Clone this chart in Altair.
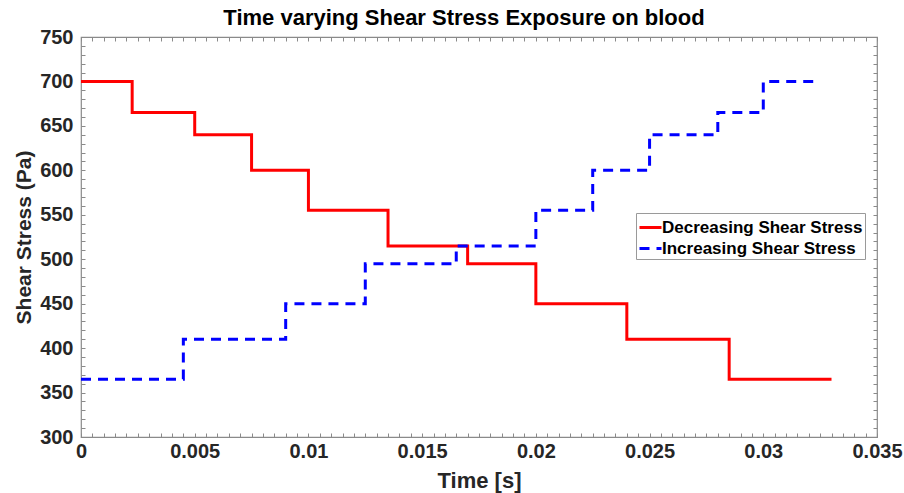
import altair as alt
import pandas as pd

# ---- data ----
dec_time = [0, 0.00225, 0.005, 0.0075, 0.01, 0.0135, 0.017, 0.02, 0.024, 0.0285, 0.033]
dec_stress = [700, 665, 640, 600, 555, 515, 495, 450, 410, 365, 365]
inc_time = [0, 0.0045, 0.009, 0.0125, 0.0165, 0.02, 0.0225, 0.025, 0.028, 0.03, 0.0325]
inc_stress = [365, 410, 450, 495, 515, 555, 600, 640, 665, 700, 700]
series = ["Decreasing Shear Stress", "Increasing Shear Stress"]
x_major = [0, 0.005, 0.01, 0.015, 0.02, 0.025, 0.03, 0.035]
y_major = [300, 350, 400, 450, 500, 550, 600, 650, 700, 750]

rows = []
for t, v in zip(dec_time, dec_stress):
    rows.append({"t": t, "s": v, "series": series[0], "order": 0})
for t, v in zip(inc_time, inc_stress):
    rows.append({"t": t, "s": v, "series": series[1], "order": 1})
df = pd.DataFrame(rows)

x_minor = [round(i * 0.0005, 5) for i in range(71)]
y_minor = list(range(300, 751, 10))

W, H = 796, 400
FONT = "Liberation Sans"
frame = "#8a8a8a"
tick_in = {"expr": "-4"}

xscale = alt.Scale(domain=[0, 0.035], nice=False, zero=False)
yscale = alt.Scale(domain=[300, 750], nice=False, zero=False)

legend_kw = dict(title=None, orient="none", legendX=555, legendY=176,
                 symbolType="stroke", symbolSize=484, symbolStrokeWidth=3,
                 labelFont=FONT, labelFontWeight="bold", labelFontSize=17,
                 labelColor="#000000", labelOffset={"expr": "-1"}, labelLimit=0,
                 strokeColor="#9a9a9a", fillColor="#ffffff",
                 padding=2, rowPadding={"expr": "-1"})

lines = alt.Chart(df).mark_line(interpolate="step-after", strokeWidth=3, clip=True).encode(
    x=alt.X("t:Q", scale=xscale,
            axis=alt.Axis(orient="bottom", values=x_minor, format="~g", labelFlush=False,
                          labelExpr="abs(round(datum.value*10000) % 50) < 0.5 ? datum.label : ''",
                          tickSize=tick_in, tickColor=frame, domain=False, grid=False,
                          labelFont=FONT, labelFontWeight="bold", labelFontSize=20,
                          labelColor="#262626", labelPadding=8,
                          title="Time [s]", titleFont=FONT, titleFontWeight="bold",
                          titleFontSize=22, titleColor="#262626", titlePadding=9)),
    y=alt.Y("s:Q", scale=yscale,
            axis=alt.Axis(orient="left", values=y_minor, labelFlush=False,
                          labelExpr="datum.value % 50 == 0 ? datum.label : ''",
                          tickSize=tick_in, tickColor=frame, domain=False, grid=False,
                          labelFont=FONT, labelFontWeight="bold", labelFontSize=20,
                          labelColor="#262626", labelPadding=12,
                          title="Shear Stress (Pa)", titleFont=FONT, titleFontWeight="bold",
                          titleFontSize=21, titleColor="#262626", titlePadding=5)),
    color=alt.Color("series:N",
                    scale=alt.Scale(domain=series, range=["#ff0000", "#0000ff"]),
                    legend=alt.Legend(**legend_kw)),
    strokeDash=alt.StrokeDash("series:N",
                              scale=alt.Scale(domain=series, range=[[1, 0], [10, 7]]),
                              legend=alt.Legend(**legend_kw)),
    order="order:Q",
)

ticks_layer = alt.Chart(df).mark_line(opacity=0).encode(
    x=alt.X("t:Q", scale=xscale,
            axis=alt.Axis(orient="top", values=x_minor, labels=False, title=None,
                          tickSize=tick_in, tickColor=frame, domain=False, grid=False)),
    y=alt.Y("s:Q", scale=yscale,
            axis=alt.Axis(orient="right", values=y_minor, labels=False, title=None,
                          tickSize=tick_in, tickColor=frame, domain=False, grid=False)),
    detail="series:N",
)

chart = alt.layer(lines, ticks_layer).resolve_axis(x="independent", y="independent").properties(
    width=W, height=H,
    autosize=alt.AutoSizeParams(type="none"),
    padding={"left": 81, "top": 37, "right": 27, "bottom": 56},
    background="#ffffff",
    title=alt.Title("Time varying Shear Stress Exposure on blood", font=FONT, fontWeight="bold",
                    fontSize=22, color="#000000", anchor="middle", offset=6, dx=-15, dy=9),
).configure_view(stroke=frame, strokeWidth=1.2)

chart.save("out.html", embed_options={"renderer": "svg", "actions": False})
